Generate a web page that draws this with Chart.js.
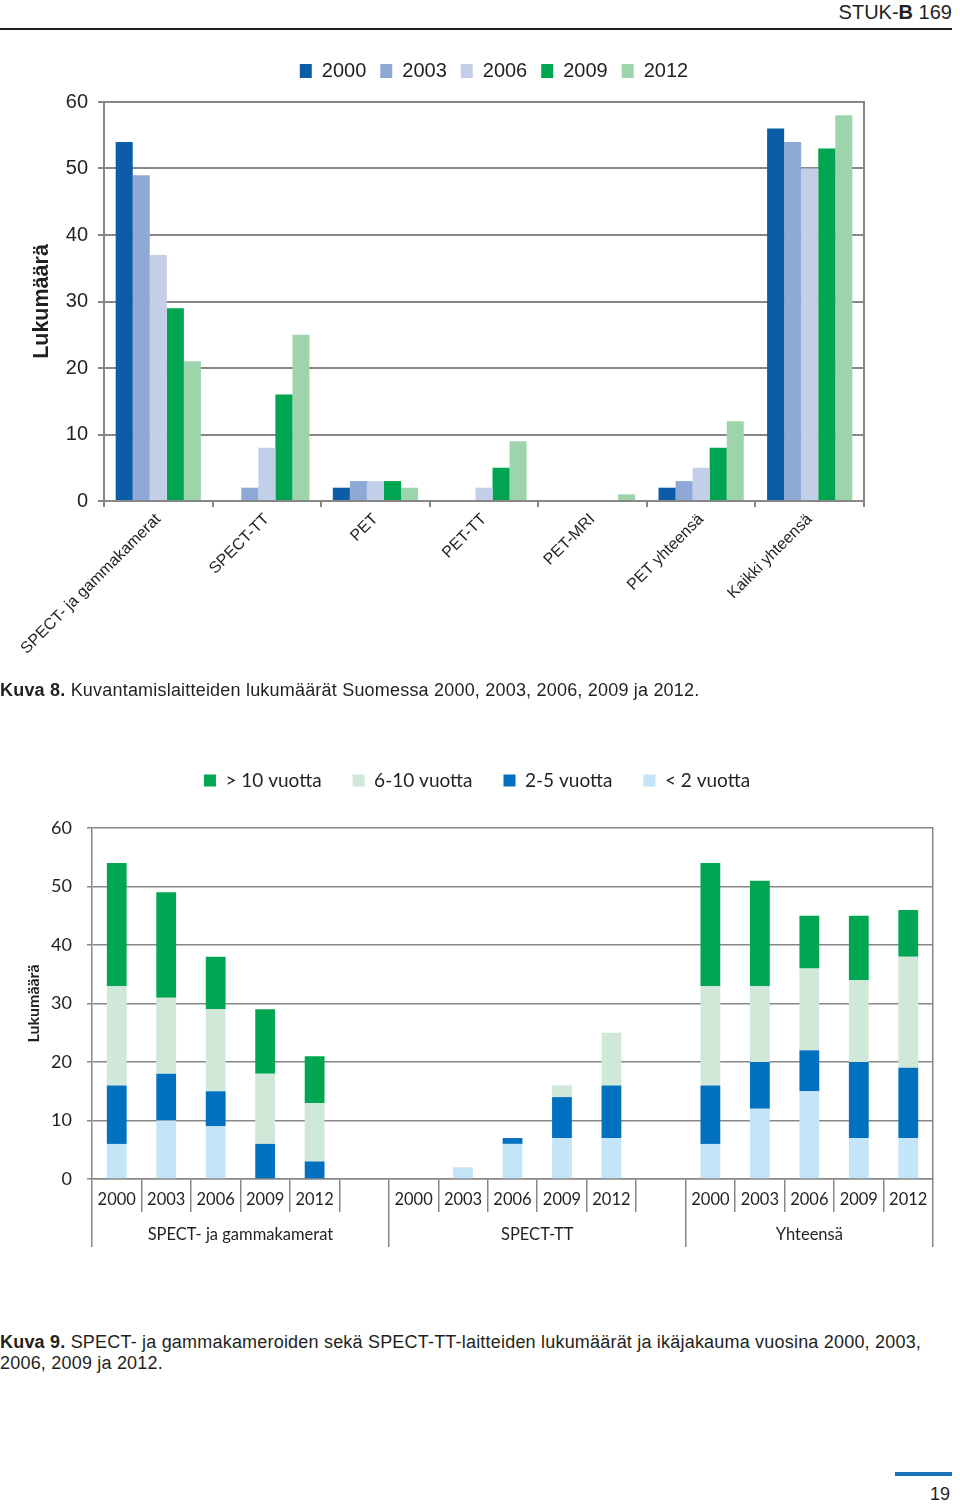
<!DOCTYPE html>
<html><head><meta charset="utf-8">
<script src="https://cdn.jsdelivr.net/npm/chart.js@4.4.1/dist/chart.umd.min.js"></script>
<style>
html,body{margin:0;padding:0;background:#fff;}
body{width:960px;height:1504px;position:relative;overflow:hidden;font-family:'Liberation Sans',Arial,sans-serif;color:#231f20;}
.abs{position:absolute;}
#hdr{right:8px;top:0px;font-size:20px;line-height:24px;white-space:nowrap;}
#hline{left:0;top:28px;width:952px;height:2px;background:#231f20;}
#cap8{left:0;top:679px;font-size:18px;letter-spacing:0.2px;line-height:22px;white-space:nowrap;}
#cap9{left:0;top:1332px;font-size:18px;letter-spacing:0.2px;line-height:21px;white-space:nowrap;}
#fline{left:895px;top:1472px;width:57px;height:4px;background:#1b75bc;}
#pno{right:10px;top:1483px;font-size:18px;line-height:22px;}
#c1{left:0;top:47px;}
#c2{left:0;top:740px;}
</style></head>
<body>
<div id="hdr" class="abs">STUK-<b>B</b> 169</div>
<div id="hline" class="abs"></div>
<canvas id="c1" class="abs" width="960" height="634"></canvas>
<div id="cap8" class="abs"><b>Kuva 8.</b> Kuvantamislaitteiden lukumäärät Suomessa 2000, 2003, 2006, 2009 ja 2012.</div>
<canvas id="c2" class="abs" width="960" height="512"></canvas>
<div id="cap9" class="abs"><b>Kuva 9.</b> SPECT- ja gammakameroiden sekä SPECT-TT-laitteiden lukumäärät ja ikäjakauma vuosina 2000, 2003,<br>2006, 2009 ja 2012.</div>
<div id="fline" class="abs"></div>
<div id="pno" class="abs">19</div>
<script>
// ---------- Chart 1 data ----------
const topCats = ['SPECT- ja gammakamerat','SPECT-TT','PET','PET-TT','PET-MRI','PET yhteensä','Kaikki yhteensä'];
const topYears = ['2000','2003','2006','2009','2012'];
const v2000 = [54, 0, 2, 0, 0, 2, 56];
const v2003 = [49, 2, 3, 0, 0, 3, 54];
const v2006 = [37, 8, 3, 2, 0, 5, 50];
const v2009 = [29, 16, 3, 5, 0, 8, 53];
const v2012 = [21, 25, 2, 9, 1, 12, 58];
const topColors = ['#0b5da8','#8fa9d6','#c3cfe9','#00a551','#9dd4ac'];

// ---------- Chart 2 data ----------
const yearLabels = ['2000','2003','2006','2009','2012','', '2000','2003','2006','2009','2012','', '2000','2003','2006','2009','2012'];
const groupLabels = ['SPECT- ja gammakamerat','SPECT-TT','Yhteensä'];
const groupSizes = [6, 6, 5];
const ageLabels = ['> 10 vuotta','6-10 vuotta','2-5 vuotta','< 2 vuotta'];
const over10  = [21, 18, 9, 11, 8, null,  null, null, null, null, null, null,  21, 18, 9, 11, 8];
const y6to10  = [17, 13, 14, 12, 10, null,  null, null, null, 2, 9, null,  17, 13, 14, 14, 19];
const y2to5   = [10, 8, 6, 6, 3, null,  null, null, 1, 7, 9, null,  10, 8, 7, 13, 12];
const under2  = [6, 10, 9, null, null, null,  null, 2, 6, 7, 7, null,  6, 12, 15, 7, 7];
const ageColors = ['#00a651','#cfe8d7','#0070bf','#c4e5f7'];

const GRAY = '#878787';
const INK = '#231f20';

function legendGap(extra){
  return { id:'legendGap', beforeInit(chart){
    const lg = chart.legend; const orig = lg.fit;
    lg.fit = function(){ orig.call(this); this.height += extra; };
  }};
}

// ---------- Chart 1 ----------
const f1 = "'Liberation Sans', Arial, sans-serif";
const topSeries = [v2000, v2003, v2006, v2009, v2012];
new Chart(document.getElementById('c1'), {
  type:'bar',
  data:{ labels: topCats, datasets: topSeries.map((d,i)=>({label: topYears[i], data:d, backgroundColor: topColors[i], borderWidth:0})) },
  plugins:[legendGap(11)],
  options:{
    responsive:false, animation:false,
    layout:{padding:{left:28,right:0,top:0,bottom:0}},
    datasets:{bar:{categoryPercentage:0.785, barPercentage:1}},
    plugins:{
      legend:{position:'top', labels:{boxWidth:12, boxHeight:14, padding:14, color:INK, font:{family:f1, size:20}}},
      tooltip:{enabled:false}
    },
    scales:{
      x:{ ticks:{font:{family:f1,size:16}, color:INK, minRotation:45, maxRotation:45, autoSkip:false, padding:3},
          grid:{drawOnChartArea:false, color:GRAY, lineWidth:2, tickLength:6},
          border:{color:GRAY, width:2},
          afterFit: s => { s.height = 180; } },
      y:{ min:0, max:60, ticks:{stepSize:10, font:{family:f1,size:20}, color:INK, padding:10},
          grid:{color:GRAY, lineWidth:2, tickLength:6},
          border:{color:GRAY, width:2},
          title:{display:true, text:'Lukumäärä', color:INK, font:{family:f1, size:21.5, weight:'bold'}, padding:{top:1,bottom:0}},
          afterFit: s => { s.width = 76; } },
      yR:{ type:'linear', position:'right', min:0, max:60,
          ticks:{display:false}, grid:{drawOnChartArea:false, drawTicks:false},
          border:{color:GRAY, width:2},
          afterFit: s => { s.width = 96; } }
    }
  }
});

// ---------- Chart 2 ----------
const f2 = "Lato, 'Open Sans', sans-serif";
const groupTicks = [];
let gStart = -0.5;
groupSizes.forEach((n,i) => { groupTicks.push({value:gStart, label:''}); groupTicks.push({value:gStart + n/2, label:groupLabels[i]}); gStart += n; });
groupTicks.push({value:gStart, label:''});

const stackData = [under2, y2to5, y6to10, over10];      // bottom to top
const stackNames = [ageLabels[3], ageLabels[2], ageLabels[1], ageLabels[0]];
const stackCols = [ageColors[3], ageColors[2], ageColors[1], ageColors[0]];
new Chart(document.getElementById('c2'), {
  type:'bar',
  data:{ labels: yearLabels, datasets: stackData.map((d,i)=>({label: stackNames[i], data:d, backgroundColor: stackCols[i], borderWidth:0})) },
  plugins:[legendGap(28)],
  options:{
    responsive:false, animation:false,
    layout:{padding:{left:0,right:6,top:0,bottom:5}},
    datasets:{bar:{categoryPercentage:0.8, barPercentage:0.5}},
    plugins:{
      legend:{position:'top', labels:{boxWidth:12, boxHeight:12, padding:31, color:INK, font:{family:f2, size:19},
              sort:(a,b)=> b.datasetIndex - a.datasetIndex}},
      tooltip:{enabled:false}
    },
    scales:{
      x:{ stacked:true, weight:1,
          ticks:{font:{family:f2,size:16.5}, color:INK, maxRotation:0, minRotation:0, autoSkip:false, padding:-22},
          grid:{offset:true, drawOnChartArea:false, color:GRAY, lineWidth:1.5, tickLength:33},
          border:{color:GRAY, width:1.5},
          afterFit: s => { s.height = 33; } },
      x2:{ type:'linear', axis:'x', position:'bottom', weight:2, offset:false,
          min:-0.5, max: yearLabels.length - 0.5,
          afterBuildTicks: s => { s.ticks = groupTicks.map(t => ({value:t.value})); },
          ticks:{font:{family:f2,size:16.5}, color:INK, maxRotation:0, minRotation:0, autoSkip:false, padding:-22,
                 callback:(v,i)=> groupTicks[i] ? groupTicks[i].label : ''},
          grid:{offset:false, drawOnChartArea:false, lineWidth:1.5, tickLength:35,
                color: c => (groupTicks[c.index] && groupTicks[c.index].label) ? 'rgba(0,0,0,0)' : GRAY},
          border:{display:false},
          afterFit: s => { s.height = 35; } },
      y:{ stacked:true, min:0, max:60,
          ticks:{stepSize:10, font:{family:f2,size:18}, color:INK, padding:15},
          grid:{color:GRAY, lineWidth:1.5, tickLength:5},
          border:{color:GRAY, width:1.5},
          title:{display:true, text:'Lukumäärä', color:INK, font:{family:f2, size:16, weight:'bold'}, padding:{top:24,bottom:0}},
          afterFit: s => { s.width = 92; } },
      yR:{ type:'linear', position:'right', min:0, max:60,
          ticks:{display:false}, grid:{drawOnChartArea:false, drawTicks:false},
          border:{color:GRAY, width:1.5},
          afterFit: s => { s.width = 21; } }
    }
  }
});
</script>
</body></html>
